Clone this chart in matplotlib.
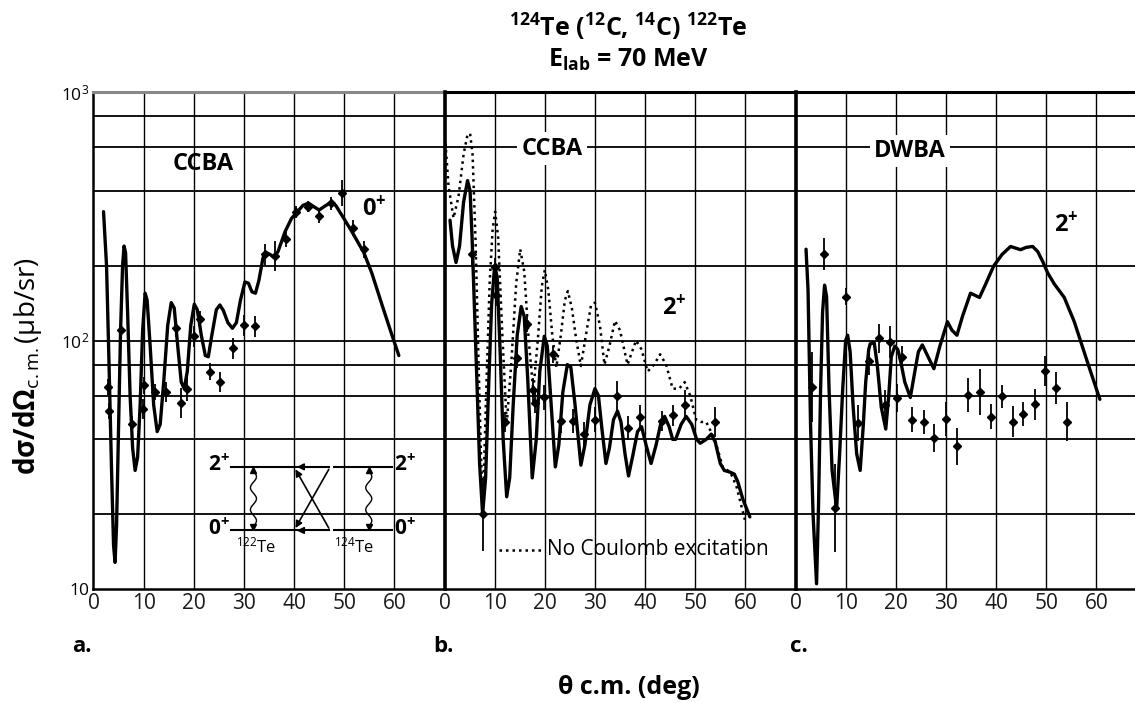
import numpy as np
import matplotlib
matplotlib.use("Agg")
import matplotlib.pyplot as plt

plt.rcParams['font.family'] = ['Open Sans', 'DejaVu Sans']
plt.rcParams['mathtext.fontset'] = 'custom'
plt.rcParams['mathtext.rm'] = 'Open Sans'
plt.rcParams['mathtext.it'] = 'Open Sans:italic'
plt.rcParams['mathtext.bf'] = 'Open Sans:bold'

# ---------------- data ----------------
# panel a: CCBA 0+ curve
a_curve_x = [2.0, 2.6, 3.1, 3.6, 4.0, 4.3, 4.6, 5.0, 5.4, 5.8, 6.1, 6.4, 6.8, 7.3, 7.8, 8.3, 8.8, 9.3,
             9.8, 10.3, 10.7, 11.3, 12.0, 12.7, 13.3, 14.0, 14.8, 15.5, 16.1, 16.8, 17.5, 18.1, 18.7,
             19.4, 20.1, 20.7, 21.5, 22.3, 22.9, 23.6, 24.5, 25.2, 25.9, 26.8, 27.7, 28.5, 29.3, 30.2,
             30.9, 31.6, 32.3, 33.0, 33.8, 34.4, 35.2, 36.0, 36.8, 38.2, 39.5, 40.5, 41.8, 42.9, 44.0,
             45.0, 46.2, 47.3, 48.3, 49.5, 51.5, 53.9, 55.5, 57.5, 59.2, 60.9]
a_curve_y = [330, 200, 80, 30, 15, 12.8, 18, 45, 110, 200, 240, 225, 130, 60, 37, 30, 34, 55,
             110, 155, 145, 95, 55, 43, 46, 68, 115, 142, 135, 95, 68, 64, 75,
             115, 140, 133, 105, 87, 86, 105, 133, 139, 132, 118, 112, 118, 145, 172,
             170, 157, 155, 175, 215, 226, 222, 216, 228, 274, 310, 327, 350, 357, 345,
             335, 348, 359, 350, 320, 275, 226, 187, 140, 110, 87]
a_pts_x = [2.8, 3.1, 5.4, 7.7, 9.9, 10.1, 12.2, 14.4, 16.4, 17.4, 18.6, 20.1, 21.2, 23.2, 25.3,
           27.8, 30.0, 32.3, 34.3, 36.2, 38.3, 40.4, 42.7, 45.0, 47.3, 49.6, 51.7, 53.9]
a_pts_y = [65, 52, 110, 46, 53, 66, 62, 62, 112, 56, 64, 104, 122, 75, 68,
           93, 115, 114, 222, 218, 257, 329, 346, 318, 356, 392, 284, 233]
a_pts_f = [1.08, 1.08, 1.10, 1.08, 1.10, 1.08, 1.08, 1.10, 1.08, 1.15, 1.12, 1.10, 1.08, 1.08, 1.10,
           1.10, 1.10, 1.10, 1.10, 1.15, 1.08, 1.06, 1.05, 1.07, 1.06, 1.13, 1.08, 1.08]

# panel b: CCBA 2+ (solid) and no Coulomb excitation (dotted)
b_curve_x = [1.1, 1.6, 2.3, 3.0, 3.8, 4.6, 5.1, 5.5, 6.0, 6.5, 7.0, 7.6, 8.2, 8.8, 9.4, 10.0, 10.5,
             11.1, 11.7, 12.4, 13.0, 13.7, 14.5, 15.3, 15.9, 16.6, 17.5, 18.3, 19.0, 19.9, 20.5,
             21.2, 22.1, 22.8, 23.6, 24.5, 25.2, 26.0, 27.2, 28.0, 29.0, 30.0, 30.7, 31.4, 32.2,
             32.9, 33.7, 34.5, 35.2, 36.0, 36.7, 37.5, 38.5, 39.3, 40.2, 41.2, 42.2, 43.2, 43.9,
             44.8, 45.5, 46.1, 47.2, 48.2, 49.3, 50.3, 51.0, 52.2, 53.2, 54.0, 55.0, 55.8, 57.0,
             57.8, 58.5, 59.5, 60.9]
b_curve_y = [305, 240, 206, 240, 360, 440, 400, 260, 130, 65, 32, 20, 28, 65, 140, 200, 180,
             90, 40, 23.5, 28, 55, 105, 137, 125, 70, 28, 40, 75, 104, 95,
             58, 31, 38, 62, 80, 78, 56, 31.5, 38, 55, 64, 60, 44, 32,
             37, 48, 52, 47, 35, 28.5, 34, 43, 45, 38, 32, 38, 47, 49.5,
             45, 40, 40, 46, 49.5, 46, 40, 38.6, 40, 42, 39, 32, 30, 29.5,
             29, 27, 23, 19.5]
b_dot_x = [0.2, 0.8, 1.8, 2.8, 3.8, 4.5, 5.1, 5.6, 6.2, 6.8, 7.6, 8.3, 9.0, 9.6, 10.1, 10.7, 11.5,
           12.4, 13.3, 14.3, 15.1, 15.9, 16.8, 17.7, 18.6, 19.4, 20.0, 20.7, 21.5, 22.3, 23.2,
           24.0, 24.6, 25.4, 26.3, 27.2, 28.2, 29.2, 30.0, 31.0, 31.9, 32.9, 34.0, 35.0, 36.5,
           37.4, 38.2, 39.3, 40.5, 41.8, 43.0, 44.2, 45.5, 46.8, 47.9, 49.0, 50.2, 51.2, 52.2,
           53.9, 55.5, 57.0, 58.2, 59.9]
b_dot_y = [620, 420, 311, 380, 560, 660, 682, 560, 250, 80, 20, 60, 170, 280, 330, 260, 110,
           46, 80, 170, 233, 190, 100, 63, 100, 165, 192, 160, 105, 78, 105,
           145, 158, 135, 100, 79, 105, 138, 142, 115, 80, 95, 120, 110, 80,
           90, 100, 92, 75, 80, 88, 80, 64, 64, 68, 60, 48, 47, 47,
           40, 31, 29.5, 26, 19]
b_pts_x = [5.5, 7.7, 10.1, 10.3, 12.1, 14.4, 16.4, 17.6, 18.0, 19.9, 21.6, 23.3, 25.6, 27.9, 30.0,
           34.5, 36.5, 38.9, 43.3, 45.5, 47.9, 54.0]
b_pts_y = [222, 20, 198, 152, 47, 85, 117, 63, 56, 59, 88, 47.5, 47.5, 42, 48,
           60, 44.5, 49, 47.5, 50, 55, 47]
b_pts_f = [1.12, 1.40, 1.08, 1.10, 1.10, 1.10, 1.08, 1.12, 1.10, 1.12, 1.08, 1.12, 1.12, 1.12, 1.12,
           1.15, 1.12, 1.12, 1.10, 1.10, 1.15, 1.15]

# panel c: DWBA 2+
c_curve_x = [2.1, 2.5, 3.0, 3.5, 4.2, 4.6, 5.0, 5.4, 5.8, 6.2, 6.7, 7.3, 8.2, 8.8, 9.4, 10.0, 10.4,
             10.9, 11.5, 12.2, 12.9, 13.5, 14.0, 14.6, 14.9, 15.7, 16.3, 17.1, 18.0, 18.6, 19.1,
             19.8, 20.4, 21.0, 21.8, 22.9, 23.8, 24.5, 25.3, 26.2, 27.6, 28.8, 30.3, 31.2, 32.2,
             33.3, 34.9, 35.8, 36.7, 38.0, 39.5, 41.2, 42.9, 44.0, 44.9, 46.0, 47.3, 48.3, 49.3,
             50.3, 51.6, 53.6, 55.6, 58.3, 60.7]
c_curve_y = [233, 160, 46, 20, 10.5, 22, 63, 130, 167, 150, 63, 30, 21, 35, 63, 100, 105,
             90, 54, 35, 30, 45, 68, 92, 97, 98, 80, 54, 44, 60, 86,
             95, 92, 82, 68, 59, 75, 90, 96, 88, 77, 95, 119, 110, 105,
             125, 155, 152, 149, 170, 199, 222, 239, 235, 232, 237, 239, 228, 208,
             187, 169, 149, 119, 81, 58]
c_pts_x = [3.2, 5.7, 7.9, 10.1, 12.5, 14.6, 16.6, 17.9, 18.9, 20.2, 21.2, 23.3, 25.6, 27.7, 30.0,
           32.2, 34.5, 36.7, 39.0, 41.1, 43.4, 45.4, 47.8, 49.8, 51.9, 54.1]
c_pts_y = [65, 222, 21.2, 150, 46.7, 83, 102, 55, 99, 58.6, 86, 48, 47, 40.5, 48.4,
           37.5, 60.5, 62, 49.4, 59.6, 47.2, 50.6, 55.3, 75.5, 64.3, 47.2]
c_pts_f = [1.38, 1.16, 1.50, 1.08, 1.18, 1.14, 1.14, 1.15, 1.16, 1.14, 1.10, 1.12, 1.12, 1.14, 1.17,
           1.19, 1.17, 1.24, 1.12, 1.11, 1.15, 1.12, 1.15, 1.15, 1.16, 1.20]

x_ticks = [0, 10, 20, 30, 40, 50, 60]
y_major = [10, 100, 1000]
y_major_labels = ['10', r'$10^2$', r'$10^3$']
y_grid = [20, 40, 60, 80, 200, 400, 600, 800]

# ---------------- figure ----------------
W, H = 1135, 703
fig = plt.figure(figsize=(W / 100, H / 100), dpi=100)
fig.patch.set_facecolor('white')

top_px, bot_px = 92, 589
ppd = 5.014  # pixels per degree
def add_panel(left_px, right_px):
    ax = fig.add_axes([left_px / W, (H - bot_px) / H, (right_px - left_px) / W, (bot_px - top_px) / H])
    ax.set_yscale('log')
    ax.set_ylim(10, 1000)
    ax.set_xlim(0, (right_px - left_px) / ppd)
    ax.set_xticks(x_ticks)
    ax.set_xticklabels([str(t) for t in x_ticks], fontsize=15, color='#1a1a1a')
    ax.set_yticks(y_major)
    ax.set_yticks(y_grid, minor=True)
    ax.tick_params(which='both', length=0, pad=3)
    ax.tick_params(axis='y', which='minor', labelleft=False)
    for g in y_grid + [100]:
        ax.axhline(g, color='black', lw=1.3, zorder=1)
    for t in x_ticks[1:]:
        ax.axvline(t, color='black', lw=1.0, zorder=1)
    ax.spines['right'].set_visible(False)
    ax.spines['left'].set_linewidth(2.6)
    ax.spines['bottom'].set_linewidth(1.8)
    ax.spines['top'].set_linewidth(2.2)
    ax.set_facecolor('none')
    return ax

ax_a = add_panel(93.5, 444.5)
ax_b = add_panel(444.5, 795.5)
ax_c = add_panel(795.5, 1135)

ax_a.set_yticklabels(y_major_labels, fontsize=12.5)
ax_a.spines['left'].set_linewidth(1.8)
ax_a.spines['top'].set_color('#888888')
for ax in (ax_b, ax_c):
    ax.tick_params(axis='y', which='both', labelleft=False)

curve_kw = dict(color='black', lw=2.4, solid_joinstyle='round', solid_capstyle='round', zorder=3)
err_kw = dict(fmt='D', color='black', ms=4, elinewidth=1.3, capsize=0, zorder=4)

def draw_points(ax, xs, ys, fs):
    ys = np.array(ys, dtype=float)
    fs = np.array(fs, dtype=float)
    ax.errorbar(xs, ys, yerr=[ys - ys / fs, ys * fs - ys], **err_kw)

# panel a
ax_a.plot(a_curve_x, a_curve_y, **curve_kw)
draw_points(ax_a, a_pts_x, a_pts_y, a_pts_f)
ax_a.text(21.9, 511, 'CCBA', fontsize=17, fontweight='bold', ha='center', va='center', zorder=5)
ax_a.text(56.0, 337, r'0$^{\mathbf{+}}$', fontsize=17, fontweight='bold', ha='center', va='center', zorder=5)

# inset level scheme in panel a
up, lo = 31, 17.2
lvl_kw = dict(color='black', lw=1.5, zorder=5)
ax_a.plot([27.5, 46.9], [up, up], **lvl_kw)
ax_a.plot([27.5, 46.9], [lo, lo], **lvl_kw)
ax_a.plot([47.9, 59.5], [up, up], **lvl_kw)
ax_a.plot([47.9, 59.5], [lo, lo], **lvl_kw)
arr = dict(arrowstyle='-|>', color='black', lw=1.2, mutation_scale=10)
ax_a.annotate('', xy=(40, lo), xytext=(47.2, up), arrowprops=arr, zorder=5)
ax_a.annotate('', xy=(40, up), xytext=(47.2, lo), arrowprops=arr, zorder=5)
ax_a.annotate('', xy=(40, up), xytext=(42, up), arrowprops=arr, zorder=5)
ax_a.annotate('', xy=(40, lo), xytext=(42, lo), arrowprops=arr, zorder=5)
t = np.linspace(0, 1, 80)
for x0 in (31.9, 54.9):
    yy = (lo * 1.04) * ((up / 1.04) / (lo * 1.04)) ** t
    ax_a.plot(x0 + 0.6 * np.sin(2 * np.pi * 2.5 * t), yy, color='black', lw=1.0, zorder=5)
    ax_a.plot([x0], [up * 0.975], marker='^', color='black', ms=4.5, zorder=5)
    ax_a.plot([x0], [lo * 1.03], marker='v', color='black', ms=4.5, zorder=5)
lab_kw = dict(fontsize=15, fontweight='bold', va='center', zorder=5)
ax_a.text(27.2, up * 1.02, r'2$^{\mathbf{+}}$', ha='right', **lab_kw)
ax_a.text(27.2, lo * 1.02, r'0$^{\mathbf{+}}$', ha='right', **lab_kw)
ax_a.text(60.0, up * 1.02, r'2$^{\mathbf{+}}$', ha='left', **lab_kw)
ax_a.text(60.0, lo * 1.02, r'0$^{\mathbf{+}}$', ha='left', **lab_kw)
ax_a.text(32.5, 14.9, r'$^{122}$Te', fontsize=12, ha='center', va='center', zorder=5)
ax_a.text(51.9, 14.9, r'$^{124}$Te', fontsize=12, ha='center', va='center', zorder=5)

# panel b
ax_b.plot(b_dot_x, b_dot_y, color='black', lw=1.8, linestyle=(0, (1, 1.6)), zorder=3)
ax_b.plot(b_curve_x, b_curve_y, **curve_kw)
draw_points(ax_b, b_pts_x, b_pts_y, b_pts_f)
ax_b.text(21.5, 592, 'CCBA', fontsize=17, fontweight='bold', ha='center', va='center', zorder=5,
          bbox=dict(facecolor='white', edgecolor='none', pad=3))
ax_b.text(45.9, 135, r'2$^{\mathbf{+}}$', fontsize=17, fontweight='bold', ha='center', va='center', zorder=5)
ax_b.plot([10.9, 19.6], [14.4, 14.4], color='black', lw=1.8, linestyle=(0, (1, 1.6)), zorder=5)
ax_b.text(20.4, 14.4, 'No Coulomb excitation', fontsize=15, ha='left', va='center', zorder=5)

# panel c
ax_c.plot(c_curve_x, c_curve_y, **curve_kw)
draw_points(ax_c, c_pts_x, c_pts_y, c_pts_f)
ax_c.text(22.8, 580, 'DWBA', fontsize=17, fontweight='bold', ha='center', va='center', zorder=5,
          bbox=dict(facecolor='white', edgecolor='none', pad=3))
ax_c.text(54.0, 292, r'2$^{\mathbf{+}}$', fontsize=17, fontweight='bold', ha='center', va='center', zorder=5)

# titles and labels
fig.text(628 / W, 1 - 27 / H,
         r'$^{\mathbf{124}}$Te ($^{\mathbf{12}}$C, $^{\mathbf{14}}$C) $^{\mathbf{122}}$Te',
         fontsize=18, fontweight='bold', ha='center', va='center')
fig.text(628 / W, 1 - 60 / H, r'E$_{\mathbf{lab}}$ = 70 MeV',
         fontsize=18, fontweight='bold', ha='center', va='center')
fig.text(28 / W, 1 - 366 / H, r'$\mathbf{d\sigma/d\Omega}_{\mathrm{c.m.}}\mathrm{(\mu b/sr)}$',
         fontsize=20, rotation=90, ha='center', va='center')
fig.text(629 / W, 1 - 688 / H, 'θ c.m. (deg)', fontsize=18, fontweight='bold',
         ha='center', va='center')
for lbl, xp in (('a.', 72), ('b.', 433), ('c.', 790)):
    fig.text(xp / W, 1 - 646 / H, lbl, fontsize=16, fontweight='bold', ha='left', va='center')

fig.savefig('out.png', dpi=100, facecolor='white')
